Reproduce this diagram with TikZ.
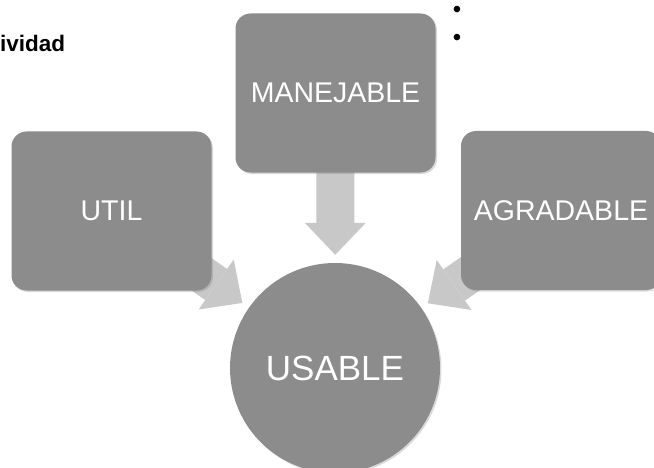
\documentclass[tikz,border=0pt]{standalone}
\usepackage{fontspec}
\setmainfont{Liberation Sans}
\usetikzlibrary{arrows.meta}
\usetikzlibrary{shadows}
\usetikzlibrary{backgrounds}
\definecolor{boxgray}{RGB}{140,140,140}
\definecolor{arrowgray}{RGB}{200,200,200}

\begin{document}
\begin{tikzpicture}[x=1pt, y=1pt,
    softshadow/.style={drop shadow={shadow xshift=1.5pt, shadow yshift=-1.5pt, opacity=0.3}},
    card/.style={fill=boxgray, rounded corners=15pt, minimum width=200pt, minimum height=159pt,
        text=white, font=\fontsize{28.5}{34}\selectfont, softshadow},
    hub/.style={circle, fill=boxgray, minimum size=210pt, inner sep=0pt,
        text=white, font=\fontsize{35}{42}\selectfont, softshadow},
    feed/.style={draw=arrowgray, line width=38pt,
        -{Triangle[length=32pt, width=61pt, line width=0pt, fill=arrowgray]}, shorten >=8pt}]
            \useasboundingbox (0,0) rectangle (654,467);

            % Cut title and empty bullets
            \node[anchor=base west, inner sep=0pt, font=\fontsize{22.5}{27}\bfseries\selectfont] (title) at (0,415) {ividad};
            \node[inner sep=0pt, font=\fontsize{24}{28}\selectfont] (bulleta) at (457,455) {•};
            \node[inner sep=0pt, font=\fontsize{24}{28}\selectfont] (bulletb) at (457,427) {•};

            % Three qualities
            \node[card] (util) at (111.5,256) {UTIL};
            \node[card] (manejable) at (335.5,374) {MANEJABLE};
            \node[card] (agradable) at (561,256.5) {AGRADABLE};

            % Result
            \node[hub] (usable) at (335,99) {USABLE};

            % Converging arrows, under the boxes
            \begin{scope}[on background layer]
                \foreach \src in {util,manejable,agradable} {
                    \draw[feed] (\src.center) -- (usable);
                }
            \end{scope}
        \end{tikzpicture}
\end{document}
